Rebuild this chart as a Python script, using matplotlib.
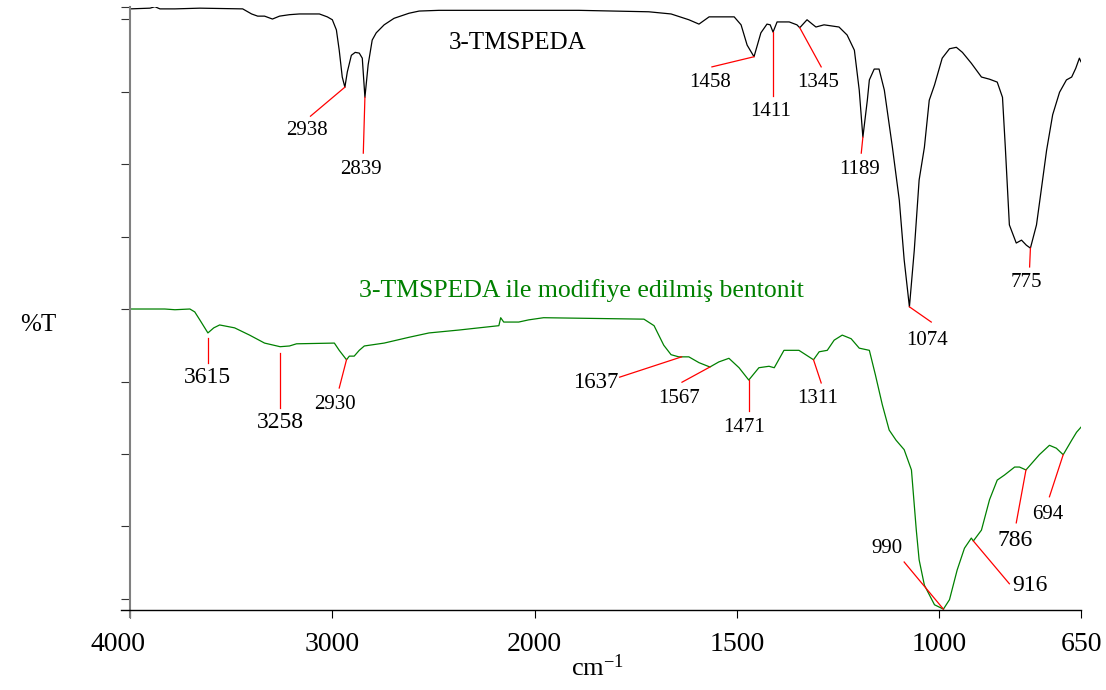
import numpy as np
import matplotlib
matplotlib.use("Agg")
import matplotlib.pyplot as plt
from matplotlib.lines import Line2D
from matplotlib.transforms import ScaledTranslation

plt.rcParams["font.family"] = ["Liberation Serif", "DejaVu Serif"]
plt.rcParams["mathtext.fontset"] = "custom"
plt.rcParams["mathtext.rm"] = "Liberation Serif"
plt.rcParams["mathtext.it"] = "Liberation Serif:italic"

# upper trace: neat silane
silane_wn = [4000, 3901, 3877, 3852, 3778, 3655, 3443, 3399, 3369, 3335, 3296, 3261, 3212, 3163, 3064,
             3025, 3000, 2980, 2966, 2951, 2938, 2926, 2906, 2887, 2867, 2852, 2839, 2823, 2803, 2783,
             2744, 2695, 2621, 2571, 2473, 2177, 2000, 1891, 1718, 1663, 1619, 1594, 1569, 1507, 1490,
             1475, 1458, 1441, 1426, 1418, 1411, 1401, 1371, 1352, 1345, 1327, 1314, 1305, 1285, 1248,
             1228, 1210, 1198, 1189, 1178, 1173, 1161, 1149, 1136, 1116, 1099, 1087, 1074, 1062, 1050,
             1037, 1025, 1012, 993, 975, 958, 943, 921, 896, 876, 857, 844, 837, 827, 810,
             797, 785, 775, 760, 750, 735, 720, 703, 686, 673, 663, 654, 650]
silane_t = [81.4, 81.5, 81.7, 81.4, 81.4, 81.5, 81.4, 80.7, 80.4, 80.4, 80.0, 80.4, 80.6, 80.7, 80.7,
            80.3, 79.9, 78.5, 75.7, 72.0, 70.6, 72.7, 75.0, 75.4, 75.3, 74.6, 69.2, 73.7, 77.1, 78.1,
            79.2, 80.1, 80.8, 81.1, 81.2, 81.2, 81.2, 81.2, 81.0, 80.7, 79.9, 79.3, 80.3, 80.3, 79.2,
            76.4, 74.8, 78.1, 79.3, 79.2, 78.2, 79.6, 79.6, 79.2, 78.8, 79.9, 79.3, 78.9, 79.2, 78.9,
            77.8, 75.7, 70.2, 63.7, 68.8, 71.6, 73.1, 73.1, 70.2, 62.3, 55.0, 46.8, 40.3, 48.1, 57.8,
            62.3, 68.8, 70.9, 74.6, 75.9, 76.1, 75.4, 73.9, 72.0, 71.7, 71.3, 69.2, 62.3, 51.6, 49.1,
            49.5, 48.8, 48.4, 51.6, 55.7, 61.9, 66.8, 69.9, 71.6, 72.0, 73.2, 74.6, 74.1]

# lower trace: silane-modified bentonite
clay_wn = [4000, 3828, 3778, 3704, 3680, 3655, 3615, 3586, 3557, 3483, 3409, 3335, 3258, 3212, 3177,
           2990, 2966, 2930, 2916, 2892, 2867, 2842, 2744, 2621, 2522, 2374, 2276, 2177, 2168, 2153,
           2079, 2030, 1978, 1730, 1705, 1681, 1663, 1644, 1619, 1594, 1567, 1545, 1520, 1495, 1471,
           1446, 1421, 1408, 1384, 1347, 1311, 1297, 1277, 1260, 1240, 1218, 1198, 1173, 1158, 1141,
           1124, 1107, 1087, 1069, 1057, 1050, 1037, 1012, 990, 975, 956, 938, 921, 916, 896,
           876, 857, 839, 814, 802, 786, 753, 728, 711, 694, 673, 661, 650]
clay_t = [40.0, 40.0, 39.9, 40.0, 39.6, 38.5, 36.7, 37.4, 37.8, 37.4, 36.4, 35.3, 34.8, 34.9, 35.2,
          35.3, 34.3, 33.0, 33.5, 33.5, 34.3, 34.9, 35.3, 36.1, 36.7, 37.1, 37.4, 37.7, 38.8, 38.2,
          38.2, 38.5, 38.8, 38.6, 37.7, 35.0, 33.7, 33.4, 33.4, 32.6, 32.0, 32.7, 33.2, 31.9, 30.2,
          31.9, 32.1, 31.9, 34.3, 34.3, 33.0, 34.1, 34.3, 35.7, 36.4, 35.9, 34.6, 34.3, 30.9, 26.8,
          23.3, 21.9, 20.6, 17.8, 9.5, 5.4, 1.9, -0.8, -1.4, -0.1, 4.0, 7.0, 8.4, 8.0, 9.5,
          13.7, 16.4, 17.1, 18.2, 18.2, 17.8, 19.9, 21.2, 20.8, 19.9, 21.9, 23.0, 23.7]

silane_peaks = [2938, 2839, 1458, 1411, 1345, 1189, 1074, 775]
clay_peaks = [3615, 3258, 2930, 1637, 1567, 1471, 1311, 990, 916, 786, 694]

x_ticks = [4000, 3000, 2000, 1500, 1000, 650]

# label placement: (gap below trace, leader end wn, leader end T, text wn, text T, font size)
silane_layout = [
    (0, 3108, 66.6, 3128, 64.6, 15),
    (0, 2847, 61.5, 2857, 59.3, 15),
    (0, 1562, 73.4, 1567, 71.2, 15),
    (0, 1411, 69.4, 1418, 67.2, 15),
    (0, 1292, 73.4, 1300, 71.2, 15),
    (0, 1193, 61.5, 1196, 59.3, 15),
    (0, 1020, 38.2, 1030, 35.7, 15),
    (0, 777, 45.8, 785, 43.6, 15),
]
clay_layout = [
    (0.7, 3615, 32.6, 3616, 30.6, 17),
    (0.8, 3258, 26.3, 3258, 24.4, 17),
    (0, 2966, 29.1, 2985, 26.8, 15),
    (0, 1790, 30.6, 1849, 29.8, 16.5),
    (0, 1636, 29.9, 1644, 27.7, 15),
    (0, 1471, 25.9, 1483, 23.7, 15),
    (0, 1292, 29.8, 1302, 27.7, 15),
    (0, 1087, 5.1, 1129, 7.0, 15),
    (0, 827, 2.1, 777, 1.9, 17),
    (0, 810, 10.5, 812, 8.1, 17),
    (0, 728, 14.1, 733, 11.7, 15),
]


def fwd(w):
    # twice the spread below 2000 cm-1
    w = np.asarray(w, dtype=float)
    return np.where(w >= 2000, w, 2 * w - 2000)


def inv(u):
    u = np.asarray(u, dtype=float)
    return np.where(u >= 2000, u, (u + 2000) / 2)


fig = plt.figure(figsize=(11.06, 6.90), dpi=100)
ax = fig.add_axes([130 / 1106, 80 / 690, 951 / 1106, 603 / 690])
ax.set_xscale("function", functions=(fwd, inv))

ax.plot(silane_wn, silane_t, color="black", lw=0.9)
ax.plot(clay_wn, clay_t, color="#008000", lw=0.9)


def label_peaks(wn, t, peaks, layout):
    xs = np.asarray(wn[::-1], dtype=float)
    ys = np.asarray(t[::-1], dtype=float)
    for p, (gap, ex, ey, tx, ty, fs) in zip(peaks, layout):
        y0 = np.interp(p, xs, ys) - gap
        ax.plot([p, ex], [y0, ey], color="red", lw=0.9)
        ax.text(tx, ty, str(p), ha="center", va="center", fontsize=fs)


label_peaks(silane_wn, silane_t, silane_peaks, silane_layout)
label_peaks(clay_wn, clay_t, clay_peaks, clay_layout)

ax.text(2084, 76.7, "3-TMSPEDA", ha="center", va="center", fontsize=18)
ax.text(1884, 42.5, "3-TMSPEDA ile modifiye edilmiş bentonit", ha="center", va="center",
        fontsize=18.5, color="#008000")

y_top = 81.66
ax.set_xlim(4000, 650)
ax.set_ylim(-1.52, y_top)
ax.set_xticks(x_ticks)
ax.set_xticklabels([str(v) for v in x_ticks])
ax.set_yticks(list(range(0, 81, 10)) + [y_top])
ax.tick_params(axis="y", direction="out", length=6.5, width=0.8, labelleft=False, color="#333333")
ax.tick_params(axis="x", direction="out", length=6, width=0.8, labelsize=20, pad=10)
ax.minorticks_off()

# first label sits a little left of its tick
first = ax.get_xticklabels()[0]
first.set_transform(first.get_transform() + ScaledTranslation(-0.12, 0, fig.dpi_scale_trans))

for s in ax.spines.values():
    s.set_visible(False)
ax.add_line(Line2D([0, 0], [-7 / 603, 1], transform=ax.transAxes, color="#808080",
                   lw=1.5, clip_on=False))
ax.add_line(Line2D([-9 / 951, 1], [0, 0], transform=ax.transAxes, color="black",
                   lw=1.0, clip_on=False))

fig.text(38 / 1106, 1 - 325 / 690, "%T", ha="center", va="center", fontsize=18)
fig.text(598 / 1106, 1 - 668 / 690, "cm$^{-1}$", ha="center", va="center", fontsize=19)

fig.savefig("out.png", dpi=100)
